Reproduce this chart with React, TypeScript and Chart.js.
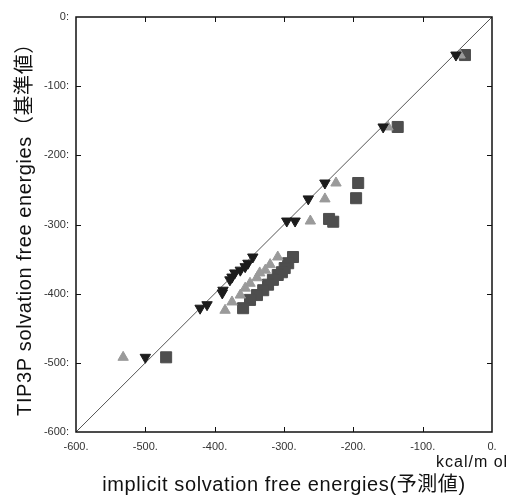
import React, { useEffect, useRef } from 'react';
import { Chart, registerables } from 'chart.js';
Chart.register(...registerables);

const FONT = "'Liberation Sans', 'Noto Sans CJK JP', sans-serif";

const axisMin = -600;
const axisMax = 0;
const tickStep = 100;
const innerTicks = [-500, -400, -300, -200, -100];
const xTickSuffix = '.';
const yTickSuffix = ':';
const xTitle = 'implicit solvation free energies(予測値)';
const yTitle = 'TIP3P solvation free energies（基準値）';
const unitLabel = 'kcal/m ol';

// black downward triangles
const downTriX = [-52, -157, -241, -265, -296, -284, -345, -352, -356, -363, -371, -375, -378, -388, -389, -411, -421, -500];
const downTriY = [-55, -159, -240, -263, -295, -295, -347, -356, -361, -366, -370, -376, -380, -395, -399, -416, -421, -492];

// gray upward triangles
const upTriX = [-46, -150, -225, -241, -262, -309, -320, -327, -335, -339, -349, -356, -363, -375, -385, -532];
const upTriY = [-55, -159, -240, -263, -295, -347, -358, -366, -370, -377, -385, -392, -402, -412, -424, -492];

// dark gray squares
const squareX = [-39, -136, -193, -196, -235, -229, -287, -294, -299, -303, -309, -316, -323, -330, -339, -349, -359, -470];
const squareY = [-55, -159, -240, -262, -292, -296, -347, -356, -363, -369, -373, -380, -387, -395, -402, -409, -421, -492];

const diagX = [-600, 0];
const diagY = [-600, 0];

const toPoints = (xs: number[], ys: number[]) => xs.map((x, i) => ({ x, y: ys[i] }));

const framePlugin = {
  id: 'frame',
  afterDatasetsDraw(chart: any) {
    const { ctx, chartArea } = chart;
    const { left, right, top, bottom } = chartArea;
    const xs = chart.scales.x;
    const ys = chart.scales.y;
    ctx.save();
    ctx.strokeStyle = '#111';
    ctx.lineWidth = 1.5;
    ctx.strokeRect(left, top, right - left, bottom - top);
    ctx.lineWidth = 1;
    ctx.beginPath();
    innerTicks.forEach((v) => {
      const px = Math.round(xs.getPixelForValue(v)) + 0.5;
      ctx.moveTo(px, bottom);
      ctx.lineTo(px, bottom - 5);
      ctx.moveTo(px, top);
      ctx.lineTo(px, top + 5);
      const py = Math.round(ys.getPixelForValue(v)) + 0.5;
      ctx.moveTo(left, py);
      ctx.lineTo(left + 5, py);
      ctx.moveTo(right, py);
      ctx.lineTo(right - 5, py);
    });
    ctx.stroke();
    ctx.restore();
  },
  afterDraw(chart: any) {
    const { ctx, chartArea } = chart;
    const cx = (chartArea.left + chartArea.right) / 2;
    const cy = (chartArea.top + chartArea.bottom) / 2;
    ctx.save();
    ctx.fillStyle = '#111';
    ctx.font = `20px ${FONT}`;
    (ctx as any).letterSpacing = '0.6px';
    ctx.textAlign = 'center';
    ctx.textBaseline = 'alphabetic';
    ctx.fillText(xTitle, cx, 491);
    ctx.save();
    ctx.translate(31, cy);
    ctx.rotate(-Math.PI / 2);
    ctx.fillText(yTitle, 0, 0);
    ctx.restore();
    ctx.font = `16px ${FONT}`;
    ctx.textAlign = 'left';
    (ctx as any).letterSpacing = '1px';
    ctx.fillText(unitLabel, 436, 467);
    ctx.restore();
  },
};

export default function App() {
  const ref = useRef<HTMLCanvasElement>(null);
  useEffect(() => {
    if (!ref.current) return;
    const chart = new Chart(ref.current, {
      type: 'scatter',
      data: {
        datasets: [
          {
            label: 'down',
            data: toPoints(downTriX, downTriY),
            pointStyle: 'triangle',
            rotation: 180,
            pointRadius: 6,
            backgroundColor: '#1c1c1c',
            borderColor: '#1c1c1c',
            borderWidth: 1,
          },
          {
            label: 'up',
            data: toPoints(upTriX, upTriY),
            pointStyle: 'triangle',
            pointRadius: 6,
            backgroundColor: '#9a9a9a',
            borderColor: '#9a9a9a',
            borderWidth: 1,
          },
          {
            label: 'square',
            data: toPoints(squareX, squareY),
            pointStyle: 'rect',
            pointRadius: 7.8,
            backgroundColor: '#4e4e4e',
            borderColor: '#4e4e4e',
            borderWidth: 1,
          },
          {
            type: 'line',
            label: 'diag',
            data: toPoints(diagX, diagY),
            borderColor: '#555',
            borderWidth: 1,
            pointRadius: 0,
            showLine: true,
            fill: false,
          } as any,
        ],
      },
      options: {
        animation: false,
        responsive: false,
        maintainAspectRatio: false,
        layout: { padding: { left: 0, right: 17, top: 17, bottom: 0 } },
        plugins: { legend: { display: false }, tooltip: { enabled: false } },
        scales: {
          x: {
            type: 'linear',
            min: axisMin,
            max: axisMax,
            grid: { display: false, drawTicks: false },
            border: { display: false },
            ticks: {
              stepSize: tickStep,
              autoSkip: false,
              maxRotation: 0,
              padding: 8,
              color: '#333',
              font: { family: FONT, size: 11 },
              callback: (v: any) => `${v}${xTickSuffix}`,
            },
            afterFit: (s: any) => {
              s.height = 63;
            },
          },
          y: {
            type: 'linear',
            min: axisMin,
            max: axisMax,
            grid: { display: false, drawTicks: false },
            border: { display: false },
            ticks: {
              stepSize: tickStep,
              autoSkip: false,
              padding: 7,
              color: '#333',
              font: { family: FONT, size: 11 },
              callback: (v: any) => `${v}${yTickSuffix}`,
            },
            afterFit: (s: any) => {
              s.width = 76;
            },
          },
        },
      },
      plugins: [framePlugin],
    });
    return () => chart.destroy();
  }, []);
  return (
    <div style={{ position: 'fixed', left: 0, top: 0, width: 509, height: 495 }}>
      <canvas ref={ref} width={509} height={495} />
    </div>
  );
}
